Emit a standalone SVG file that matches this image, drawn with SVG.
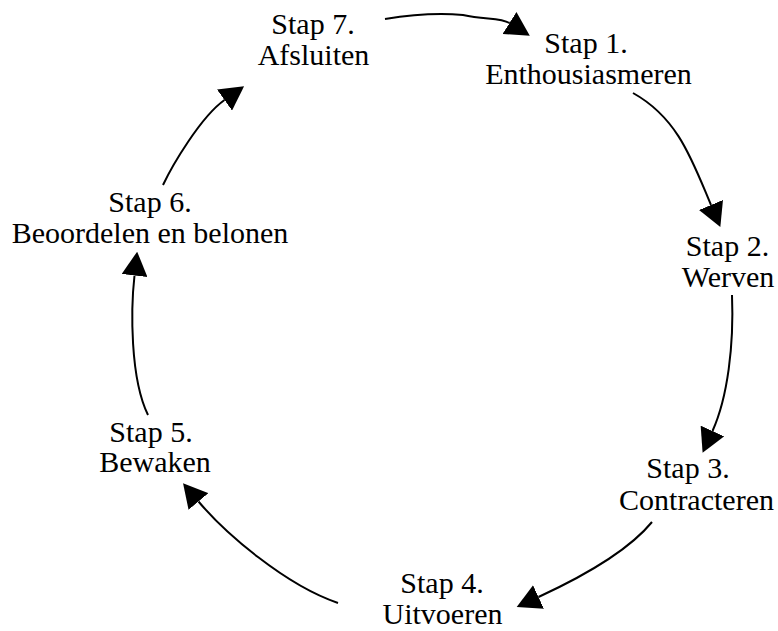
<svg xmlns="http://www.w3.org/2000/svg" width="778" height="631" viewBox="0 0 778 631">
  <style>
    .lbl { font-family: "Liberation Serif", "Times New Roman", serif; font-size: 30px; fill: #000; text-anchor: middle; }
    .edge { fill: none; stroke: #000; stroke-width: 2; marker-end: url(#head); }
  </style>
  <defs>
    <marker id="head" viewBox="0 -13 24 26" refX="0" refY="0" markerWidth="24" markerHeight="26" markerUnits="userSpaceOnUse" orient="auto">
      <path d="M0,-13 L24,0 L0,13 Z" fill="#000"/>
    </marker>
  </defs>
  <rect width="778" height="631" fill="#fff"/>

  <g id="connectors">
    <path class="edge" d="M385,19 Q428,12 463,15 C485,20 500,17 509.5,23"/>
    <path class="edge" d="M633,93 C678,118 692,160 711,205"/>
    <path class="edge" d="M732,295 C734,345 727.7,397.4 712.5,431"/>
    <path class="edge" d="M652,522 C625,555 571,582 538.5,597"/>
    <path class="edge" d="M338,603 C285,585 225,533 198.5,501.5"/>
    <path class="edge" d="M148,415 C130,378 130.75,309 134.5,275.5"/>
    <path class="edge" d="M163,185 C172,166 200.5,117 224.5,100"/>
  </g>

  <g id="stap1">
    <text class="lbl" x="586" y="53">Stap 1.</text>
    <text class="lbl" x="588.5" y="84">Enthousiasmeren</text>
  </g>
  <g id="stap2">
    <text class="lbl" x="727.5" y="256">Stap 2.</text>
    <text class="lbl" x="728" y="287">Werven</text>
  </g>
  <g id="stap3">
    <text class="lbl" x="688" y="478">Stap 3.</text>
    <text class="lbl" x="696.5" y="510">Contracteren</text>
  </g>
  <g id="stap4">
    <text class="lbl" x="442" y="593">Stap 4.</text>
    <text class="lbl" x="442.5" y="624">Uitvoeren</text>
  </g>
  <g id="stap5">
    <text class="lbl" x="151" y="442">Stap 5.</text>
    <text class="lbl" x="155" y="472">Bewaken</text>
  </g>
  <g id="stap6">
    <text class="lbl" x="150" y="212">Stap 6.</text>
    <text class="lbl" x="150" y="243">Beoordelen en belonen</text>
  </g>
  <g id="stap7">
    <text class="lbl" x="313" y="34">Stap 7.</text>
    <text class="lbl" x="313.5" y="65">Afsluiten</text>
  </g>
</svg>
